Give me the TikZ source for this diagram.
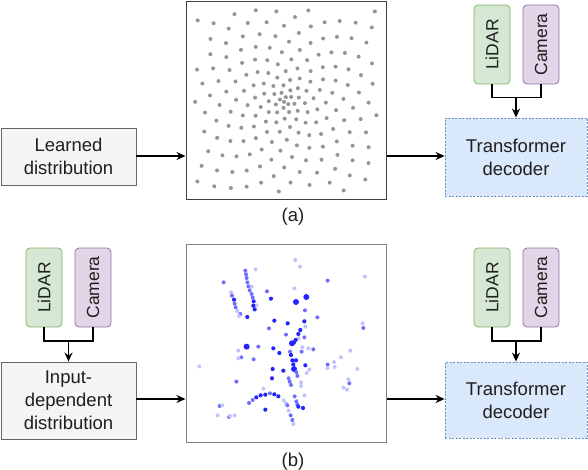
\documentclass[tikz,border=0pt]{standalone}
\usepackage{fontspec}
\setmainfont{Liberation Sans}
\usetikzlibrary{arrows.meta,calc}
\definecolor{gbf}{HTML}{F5F5F5}
\definecolor{gbd}{HTML}{666666}
\definecolor{lf}{HTML}{D5E8D4}
\definecolor{ld}{HTML}{82B366}
\definecolor{cf}{HTML}{E1D5E7}
\definecolor{cd}{HTML}{9673A6}
\definecolor{tf}{HTML}{DAE8FC}
\definecolor{td}{HTML}{6C8EBF}
\definecolor{dotg}{HTML}{959595}
\definecolor{bd}{HTML}{2424FF}
\definecolor{bm}{HTML}{6E6EFF}
\definecolor{bl}{HTML}{C2C2FF}
\begin{document}
\begin{tikzpicture}[x=1pt,y=-1pt,
  txt/.style={font=\fontsize{18.5}{23}\selectfont, text=black!88, align=center},
  graybox/.style={txt, draw=gbd, fill=gbf, line width=0.8pt, minimum width=135pt, inner sep=0pt},
  sensor/.style={txt, rounded corners=4pt, line width=0.8pt, minimum width=79pt, minimum height=36pt, inner sep=0pt, rotate=90, font=\fontsize{17.5}{20}\selectfont},
  lidarbox/.style={sensor, draw=ld, fill=lf},
  camerabox/.style={sensor, draw=cd, fill=cf},
  decoder/.style={txt, draw=td, fill=tf, dash pattern=on 2pt off 1.5pt, line width=0.8pt, minimum width=142pt, inner sep=0pt},
  frame/.style={draw, line width=1pt, minimum width=200pt, minimum height=198pt, inner sep=0pt},
  arr/.style={line width=1.8pt, -{Stealth[length=9pt,width=8pt]}},
  link/.style={line width=1.8pt},
  pd/.style={fill=bd, radius=2.1pt},
  pb/.style={fill=bd, radius=3pt},
  pm/.style={fill=bm, radius=2pt},
  pl/.style={fill=bl, radius=2pt}
]
\useasboundingbox (0,0) rectangle (588,470);

% ---------- (a) ----------
\node[graybox, minimum height=57pt] (learn) at (68.5,156.5) {Learned\\distribution};
\node[frame, draw=black!75] (fa) at (286,101) {};
\node[decoder, minimum height=78pt] (deca) at (516,157) {Transformer\\decoder};
\node[lidarbox] (lida) at (492,44.5) {LiDAR};
\node[camerabox] (cama) at (541,44.5) {Camera};
\coordinate (ja) at ($(deca.north)+(0,-20)$);
\draw[link] (lida.west) |- (ja) -| (cama.west);
\draw[arr] (ja) -- (deca.north);
\draw[arr] (learn.east |- 0,156) -- (fa.west |- 0,156);
\draw[arr] (fa.east |- 0,156) -- (deca.west |- 0,156);
\node[txt] (la) at (293,217) {(a)};

\begin{scope}[shift={(285.5,100.5)}]
\foreach \i in {1,...,270}{
  \pgfmathsetmacro\ff{0.381966*\i}
  \pgfmathsetmacro\ang{360*(\ff-floor(\ff))}
  \pgfmathsetmacro\rr{2.0*(\i^0.75)}
  \pgfmathsetmacro\px{\rr*cos(\ang)}
  \pgfmathsetmacro\py{\rr*sin(\ang)}
  \pgfmathtruncatemacro\ok{and(abs(\px)<91,abs(\py)<91)}
  \ifnum\ok=1 \fill[dotg] (\px,\py) circle[radius=2pt];\fi
}
\end{scope}

% ---------- (b) ----------
\node[lidarbox] (lidb) at (44,287.5) {LiDAR};
\node[camerabox] (camb) at (93,287.5) {Camera};
\node[graybox, minimum height=77pt] (inp) at (68.5,400.5) {Input-\\dependent\\distribution};
\coordinate (jb) at ($(inp.north)+(0,-21)$);
\draw[link] (lidb.west) |- (jb) -| (camb.west);
\draw[arr] (jb) -- (inp.north);
\node[frame, draw=black!50] (fb) at (286,343) {};
\node[decoder, minimum height=76pt] (decb) at (516,400) {Transformer\\decoder};
\node[lidarbox] (lidc) at (492,287.5) {LiDAR};
\node[camerabox] (camc) at (541,287.5) {Camera};
\coordinate (jc) at ($(decb.north)+(0,-21)$);
\draw[link] (lidc.west) |- (jc) -| (camc.west);
\draw[arr] (jc) -- (decb.north);
\draw[arr] (inp.east |- 0,399) -- (fb.west |- 0,399);
\draw[arr] (fb.east |- 0,399) -- (decb.west |- 0,399);
\node[txt] (lb) at (293,462) {(b)};

\begin{scope}[shift={(185,240)}, x=0.3333pt, y=-0.3333pt]
\foreach \x/\y/\c in {
331/60/l, 345/80/l, 212/88/l, 181/92/m, 183/103/m, 185/114/m, 187/127/m, 116/127/m,
190/139/m, 200/140/l, 194/151/m, 138/157/l, 200/162/m, 141/167/m, 203/173/m, 147/179/d,
206/184/d, 149/191/m, 214/196/l, 205/197/d, 152/202/m, 209/208/d, 157/213/l, 166/222/m,
162/228/l, 187/231/d, 246/154/m, 258/176/d, 328/145/l, 364/171/b, 333/186/b, 428/122/m,
540/110/l, 360/211/m, 397/232/m, 268/242/d, 308/250/d, 358/244/d, 361/260/l, 252/265/m,
346/270/d, 303/284/m, 340/282/d, 358/292/m, 341/295/l, 332/300/d, 327/307/d, 321/310/b,
533/250/l, 535/264/m, 185/320/b, 220/320/m, 265/325/d, 352/322/l, 370/325/l, 385/328/m,
350/335/m, 315/335/m, 318/345/d, 283/339/d, 160/332/l, 169/352/m, 160/355/l, 206/358/m,
322/361/d, 333/361/d, 496/332/l, 468/352/l, 325/373/d, 361/376/d, 428/374/m, 447/366/l,
449/381/l, 427/384/l, 43/379/l, 263/387/d, 295/392/d, 327/387/b, 373/389/l, 365/399/l,
334/397/m, 337/408/m, 517/387/l, 261/415/d, 311/415/m, 314/425/m, 318/435/m, 348/427/l,
348/438/l, 154/425/m, 490/418/l, 493/430/m, 475/443/l, 486/449/l, 235/446/l, 358/466/l,
329/469/m, 280/469/d, 268/463/d, 255/460/m, 241/464/d, 227/466/d, 214/472/d, 203/480/m,
192/489/m, 296/481/l, 303/490/l, 307/496/m, 334/484/m, 337/493/m, 340/500/d, 354/504/d,
104/498/m, 112/496/l, 241/509/d, 311/512/l, 317/526/m, 322/540/m, 325/552/l, 98/526/l,
132/531/m, 135/528/l, 149/526/l}{
  \fill[p\c] (\x,\y) circle;
}
\end{scope}
\end{tikzpicture}
\end{document}
